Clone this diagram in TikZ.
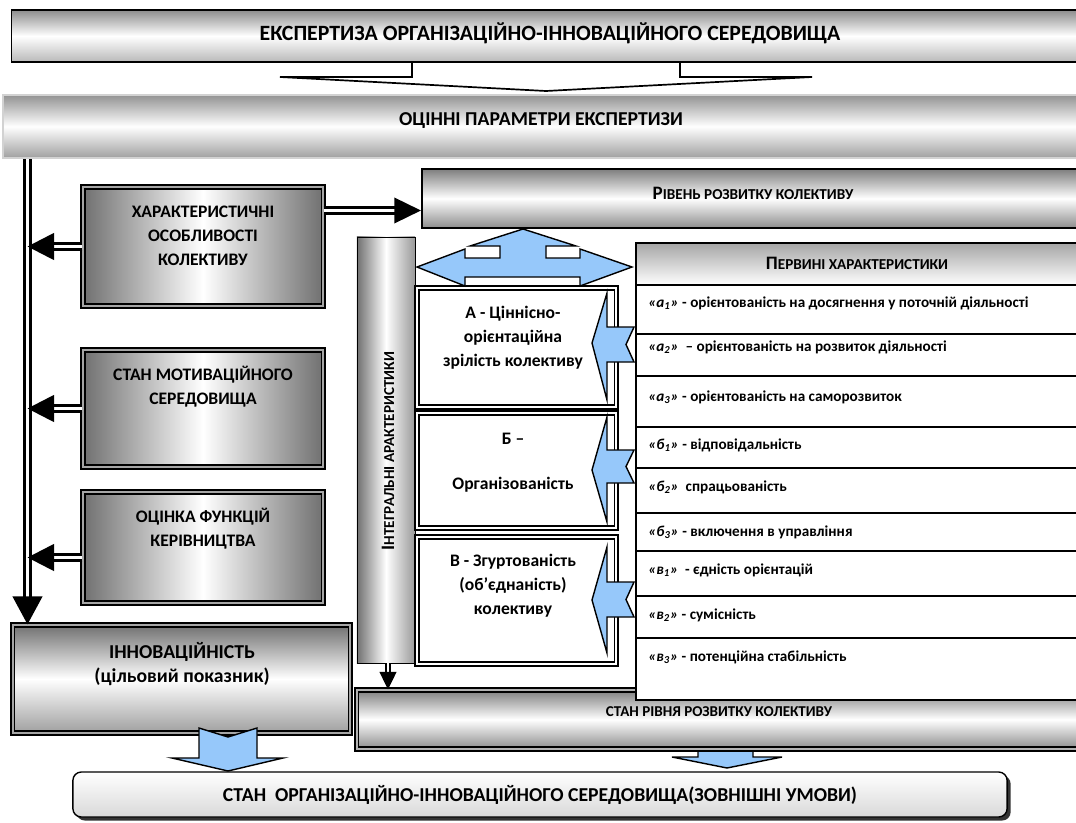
\documentclass[tikz,border=0pt]{standalone}
\usepackage{fontspec}
\setmainfont{Carlito}
\usetikzlibrary{arrows.meta,shadows}
\definecolor{arrowblue}{RGB}{150,200,250}
\definecolor{edgegray}{RGB}{112,112,112}
\newcommand{\rowlbl}[2]{{\itshape «#1\textsubscript{#2}»}}
\newcommand{\smcap}[2]{{\fontsize{13.5}{15}\selectfont\bfseries #1}{\fontsize{10.8}{12}\selectfont\bfseries #2}}

\begin{document}
\begin{tikzpicture}[x=0.025cm,y=-0.025cm]
\tikzstyle{every node}+=[inner sep=0pt]
\tikzstyle{vcyl}=[top color=edgegray!90, bottom color=edgegray!80, middle color=white]
\tikzstyle{greybox}=[draw=black, line width=0.8pt, double=gray!70, double distance=2pt, left color=edgegray, right color=edgegray, middle color=white, minimum width=6cm]
\tikzstyle{whitebox}=[draw=black, line width=0.8pt, double=white, double distance=2pt, fill=white, minimum width=4.975cm]
\tikzstyle{boxtext}=[align=center, font=\fontsize{12.5}{17}\selectfont\bfseries]
\tikzstyle{rowbox}=[draw=black, line width=0.9pt, fill=white, minimum width=11.35cm]
\tikzstyle{rowtext}=[anchor=west, font=\fontsize{10.8}{12}\selectfont\bfseries]
\tikzstyle{bigline}=[draw=black, double=white, line width=2pt, double distance=1.9pt]
\tikzstyle{smallline}=[draw=black, double=white, line width=1.2pt, double distance=1.4pt]
\tikzstyle{bluearrow}=[draw=black, line width=1pt, fill=arrowblue, line join=miter]
\useasboundingbox (0,0) rectangle (1076,822);

% expertise and its parameters
\draw [line width=1.2pt, fill=white] (412,50) -- (412,77) -- (280,77) -- (546,91) -- (812,77) -- (680,77) -- (680,50);
\node [draw, line width=0.9pt, top color=gray!90, bottom color=gray!55, middle color=white, minimum width=26.95cm, minimum height=1.3cm] (expert) at (551,36) {};
\node [font=\fontsize{15.5}{17}\selectfont\bfseries] (expertT) at (550,33) {ЕКСПЕРТИЗА ОРГАНІЗАЦІЙНО-ІННОВАЦІЙНОГО СЕРЕДОВИЩА};
\node [draw=gray!35, line width=1.6pt, top color=gray!85, bottom color=gray!75, middle color=white, minimum width=27.05cm, minimum height=1.575cm] (ocin) at (544,126.5) {};
\node [font=\fontsize{14}{16}\selectfont\bfseries] (ocinT) at (541,121) {ОЦІННІ ПАРАМЕТРИ ЕКСПЕРТИЗИ};

% left column
\node [greybox, minimum height=2.975cm] (charc) at (203,246.5) {};
\node [boxtext] (charcT) at (203,236) {ХАРАКТЕРИСТИЧНІ\\ОСОБЛИВОСТІ\\КОЛЕКТИВУ};
\node [greybox, minimum height=2.925cm] (motiv) at (203,408.5) {};
\node [boxtext] (motivT) at (203,386.5) {СТАН МОТИВАЦІЙНОГО\\СЕРЕДОВИЩА};
\node [greybox, minimum height=2.775cm] (func) at (203,547.5) {};
\node [boxtext] (funcT) at (203,528.5) {ОЦІНКА ФУНКЦІЙ\\КЕРІВНИЦТВА};
\node [draw=black, line width=0.8pt, double=gray!70, double distance=2pt, top color=edgegray, bottom color=gray!75, middle color=white, minimum width=8.425cm, minimum height=2.7cm] (innov) at (181.5,679) {};
\node [boxtext, font=\fontsize{14}{17}\selectfont\bfseries] (innovT) at (182,664) {ІННОВАЦІЙНІСТЬ\\(цільовий показник)};

\coordinate (vl) at (27.5,160);
\draw [bigline, -{Triangle[width=21pt,length=20pt]}] (ocin.south -| vl) -- (vl |- innov.north);
\draw [bigline, -{Triangle[width=19pt,length=19pt]}] (charc.west) -- (charc.west -| vl);
\draw [bigline, -{Triangle[width=19pt,length=19pt]}] (motiv.west) -- (motiv.west -| vl);
\coordinate (funcOut) at ([yshift=-0.25cm]func.west);
\draw [bigline, -{Triangle[width=19pt,length=19pt]}] (funcOut) -- (funcOut -| vl);

% level of development
\node [draw, line width=1.3pt, vcyl, minimum width=16.7cm, minimum height=1.475cm] (riven) at (756,198.5) {};
\node (rivenT) at (753,193) {\smcap{Р}{ІВЕНЬ РОЗВИТКУ КОЛЕКТИВУ}};
\coordinate (charOut) at ([yshift=0.9cm]charc.east);
\draw [bigline, -{Triangle[width=18pt,length=19pt]}] (charOut) -- (charOut -| riven.west);

% integral characteristics
\draw [bluearrow] (698,740) -- (698,757) -- (672,757) -- (727,768) -- (782,757) -- (753,757) -- (753,740);
\node [draw=black, line width=0.8pt, double=gray!60, double distance=2pt, vcyl, minimum width=18.325cm, minimum height=1.475cm] (stanriv) at (723.5,719.5) {};
\node [font=\fontsize{10.7}{12}\selectfont\bfseries] (stanrivT) at (719,712) {СТАН РІВНЯ РОЗВИТКУ КОЛЕКТИВУ};
\node [draw, line width=0.6pt, left color=edgegray, right color=gray!80, middle color=white, minimum width=1.45cm, minimum height=10.65cm] (intbar) at (386,450) {};
\node [rotate=90] (intbarT) at (388,451) {\smcap{І}{НТЕГРАЛЬНІ АРАКТЕРИСТИКИ}};
\draw [smallline, -{Triangle[width=12pt,length=12.5pt]}] ([xshift=0.05cm]intbar.south) -- ([xshift=0.05cm]intbar.south |- stanriv.north);

% primary characteristics
\node [rowbox, top color=gray!70, bottom color=white, minimum height=1.05cm] (hdr) at (863,264) {};
\node (hdrT) at (857,263) {\smcap{П}{ЕРВИНІ ХАРАКТЕРИСТИКИ}};
\node [rowbox, minimum height=1.225cm] (ra1) at (863,309.5) {};
\node [rowtext] (ta1) at (648,303) {\rowlbl{а}{1} - орієнтованість на досягнення у поточній діяльності};
\node [rowbox, minimum height=1.05cm] (ra2) at (863,355) {};
\node [rowtext] (ta2) at (648,347) {\rowlbl{а}{2}\ \ – орієнтованість на розвиток діяльності};
\node [rowbox, minimum height=1.275cm] (ra3) at (863,401.5) {};
\node [rowtext] (ta3) at (648,397) {\rowlbl{а}{3} - орієнтованість на саморозвиток};
\node [rowbox, minimum height=1.025cm] (rb1) at (863,447.5) {};
\node [rowtext] (tb1) at (648,445) {\rowlbl{б}{1} - відповідальність};
\node [rowbox, minimum height=1.125cm] (rb2) at (863,490.5) {};
\node [rowtext] (tb2) at (648,487) {\rowlbl{б}{2}\ \ спрацьованість};
\node [rowbox, minimum height=0.95cm] (rb3) at (863,532) {};
\node [rowtext] (tb3) at (648,532) {\rowlbl{б}{3} - включення в управління};
\node [rowbox, minimum height=1.125cm] (rv1) at (863,573.5) {};
\node [rowtext] (tv1) at (648,570) {\rowlbl{в}{1}\ \ - єдність орієнтацій};
\node [rowbox, minimum height=1.05cm] (rv2) at (863,617) {};
\node [rowtext] (tv2) at (648,615) {\rowlbl{в}{2} - сумісність};
\node [rowbox, minimum height=1.55cm] (rv3) at (863,669) {};
\node [rowtext] (tv3) at (648,657) {\rowlbl{в}{3} - потенційна стабільність};

% A, B, C
\node [whitebox, minimum height=2.975cm] (boxA) at (516.5,347.5) {};
\node [boxtext] (boxAT) at (513,338) {А - Ціннісно-\\орієнтаційна\\зрілість колективу};
\node [whitebox, minimum height=2.875cm] (boxB) at (516.5,470.5) {};
\node [boxtext] (boxBT) at (513,463) {Б –\\[15pt]Організованість};
\node [whitebox, minimum height=3.175cm] (boxC) at (516.5,600.5) {};
\node [boxtext] (boxCT) at (513,586) {В - Згуртованість\\(об'єднаність)\\колективу};
\draw [bluearrow] (592,343) -- (607,293) -- (607,327) -- (634,327) -- (626,344.5) -- (634,362) -- (607,362) -- (607,400) -- cycle;
\draw [bluearrow] (592,470) -- (607,417) -- (607,450) -- (634,450) -- (626,466.5) -- (634,483) -- (607,483) -- (607,522) -- cycle;
\draw [bluearrow] (592,600) -- (607,547) -- (607,582) -- (634,582) -- (626,599.5) -- (634,617) -- (607,617) -- (607,653) -- cycle;
\draw [bluearrow] (417,267) -- (465,249) -- (465,258) -- (500,258) -- (500,246) -- (470,246) -- (523,229) -- (576,246) -- (546,246) -- (546,258) -- (580,258) -- (580,249) -- (632,267) -- (580,286) -- (580,277) -- (465,277) -- (465,286) -- cycle;

% external conditions
\node [draw=black, line width=1pt, rounded corners=6pt, top color=white, bottom color=gray!30, drop shadow={shadow xshift=2.5pt, shadow yshift=-2.5pt, opacity=1, fill=black!80}, minimum width=23.35cm, minimum height=1.125cm, font=\fontsize{14}{16}\selectfont\bfseries] (outer) at (540,794.5) {СТАН\ \ ОРГАНІЗАЦІЙНО-ІННОВАЦІЙНОГО СЕРЕДОВИЩА(ЗОВНІШНІ УМОВИ)};
\draw [bluearrow] (199,728) -- (228,737) -- (257,728) -- (257,758) -- (283,758) -- (228,771) -- (172,758) -- (199,758) -- cycle;
\end{tikzpicture}
\end{document}
